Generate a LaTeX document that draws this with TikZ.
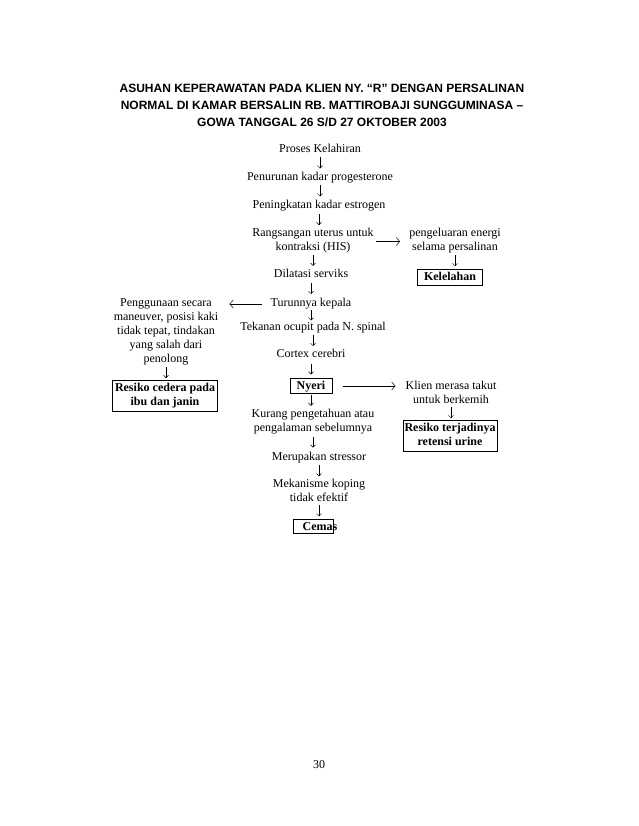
\documentclass[tikz,border=0pt]{standalone}
\usepackage{fontspec}
\setmainfont{Liberation Serif}
\newfontfamily\titlefont{Liberation Sans}
\usetikzlibrary{arrows.meta,calc}
\begin{document}
\begin{tikzpicture}[x=1pt,y=-1pt,
  every node/.style={font=\fontsize{12}{14}\selectfont, inner sep=0pt, align=center,
    execute at begin node=\strut, execute at end node=\strut},
  boxed/.style={draw, line width=1pt, font=\fontsize{12}{14}\selectfont\bfseries},
  onebox/.style={boxed, execute at begin node={}, execute at end node={}, text height=8.5pt, text depth=1pt},
  arr/.style={line width=0.5pt, -{Straight Barb[length=2.5pt,width=5pt]}},
  harr/.style={line width=0.5pt, -{Straight Barb[length=3.5pt,width=8pt]}},
  titlestyle/.style={font={\titlefont\bfseries\fontsize{12}{17}\selectfont}}
]
\useasboundingbox (0,-2) rectangle (638,824);

\node[titlestyle] (title) at (322,106) {ASUHAN KEPERAWATAN PADA KLIEN NY. “R” DENGAN PERSALINAN\\NORMAL DI KAMAR BERSALIN RB. MATTIROBAJI SUNGGUMINASA –\\GOWA TANGGAL 26 S/D 27 OKTOBER 2003};

% main column
\node (n1) at (320,148) {Proses Kelahiran};
\node (n2) at (320,176) {Penurunan kadar progesterone};
\node (n3) at (319,204) {Peningkatan kadar estrogen};
\node (n4) at (313,239.5) {Rangsangan uterus untuk\\kontraksi (HIS)};
\node (n5) at (311,273) {Dilatasi serviks};
\node (n6) at (311,302) {Turunnya kepala};
\node (n7) at (313,326) {Tekanan ocupit pada N. spinal};
\node (n8) at (311,353) {Cortex cerebri};
\node[onebox, minimum width=42pt, minimum height=15pt] (n9) at (311,384) {Nyeri};
\node (n10) at (313,420) {Kurang pengetahuan atau\\pengalaman sebelumnya};
\node (n11) at (319,456) {Merupakan stressor};
\node (n12) at (319,490) {Mekanisme koping\\tidak efektif};
\node[draw, line width=1pt, minimum width=40pt, minimum height=14pt] (n13box) at (313,524) {};
\node[font=\fontsize{12}{14}\selectfont\bfseries, execute at begin node={}, execute at end node={}, text height=8.5pt, text depth=1pt] (n13) at (320,524.5) {Cemas};

% right column
\node (r1) at (455,239.5) {pengeluaran energi\\selama persalinan};
\node[onebox, minimum width=65pt, minimum height=16pt] (r2) at (450,275) {Kelelahan};
\node (r3) at (451,392) {Klien merasa takut\\untuk berkemih};
\node[boxed, minimum width=94pt, minimum height=31pt] (r4) at (450,434) {Resiko terjadinya\\retensi urine};

% left column
\node (l1) at (166,331) {Penggunaan secara\\maneuver, posisi kaki\\tidak tepat, tindakan\\yang salah dari\\penolong};
\node[boxed, minimum width=105pt, minimum height=31pt] (l2) at (165,394) {Resiko cedera pada\\ibu dan janin};

% page number
\node (page) at (319,764) {30};

% vertical arrows (short, centred in the gap, like the printed arrow glyph)
\foreach \a/\b in {n1/n2,n2/n3,n3/n4,n4/n5,n5/n6,n6/n7,n7/n8,n8/n9,n9/n10,n10/n11,n11/n12,n12/n13box,r1/r2,r3/r4,l1/l2}
  \draw[arr] ($(\a.south)!.5!(\a.south |- \b.north)+(0,-6.5)$) -- ++(0,11);

% horizontal arrows
\draw[harr, shorten <=2.5pt, shorten >=9pt] (n4.east) -- (n4.east -| r1.west);
\draw[harr, shorten <=9pt, shorten >=11pt] (n6.west) -- (n6.west -| l1.east);
\draw[harr, shorten <=10pt, shorten >=10pt] (n9.east) -- (n9.east -| r3.west);
\end{tikzpicture}
\end{document}
